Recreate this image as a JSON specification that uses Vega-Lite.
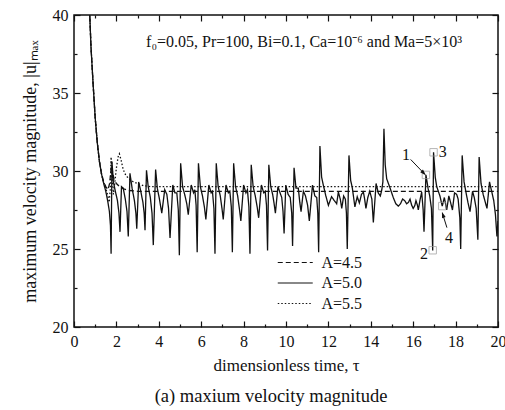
{
  "$schema": "https://vega.github.io/schema/vega-lite/v6.json",
  "autosize": "none",
  "width": 424,
  "height": 312,
  "padding": {"left": 74, "top": 15, "right": 7, "bottom": 83},
  "background": "white",
  "config": {
    "view": {"stroke": "#111", "strokeWidth": 1.5},
    "font": "Liberation Serif",
    "axis": {"domain": false, "grid": false, "labelFont": "Liberation Serif", "labelFontSize": 16, "labelColor": "#111", "titleFont": "Liberation Serif", "titleFontSize": 17, "titleFontWeight": "normal", "titleColor": "#111", "tickColor": "#111", "tickWidth": 1.2}
  },
  "title": {"text": "(a)  maxium velocity magnitude", "orient": "bottom", "anchor": "middle", "fontSize": 18.5, "font": "Liberation Serif", "fontWeight": "normal", "color": "#111", "offset": 14, "dx": -15},
  "datasets": {
    "curves": [
      {"t":0.6,"u":46,"s":"A=5.0"},{"t":0.7,"u":41.5,"s":"A=5.0"},{"t":0.8,"u":38.0,"s":"A=5.0"},{"t":0.9,"u":35.6,"s":"A=5.0"},{"t":1.0,"u":33.4,"s":"A=5.0"},{"t":1.1,"u":31.8,"s":"A=5.0"},{"t":1.2,"u":30.6,"s":"A=5.0"},{"t":1.3,"u":29.8,"s":"A=5.0"},{"t":1.4,"u":29.2,"s":"A=5.0"},{"t":1.5,"u":28.7,"s":"A=5.0"},{"t":1.6,"u":28.0,"s":"A=5.0"},{"t":1.67,"u":27.4,"s":"A=5.0"},{"t":1.72,"u":26.5,"s":"A=5.0"},{"t":1.75,"u":24.7,"s":"A=5.0"},{"t":1.79,"u":30.6,"s":"A=5.0"},{"t":1.86,"u":29.3,"s":"A=5.0"},{"t":1.95,"u":28.7,"s":"A=5.0"},{"t":2.05,"u":28.1,"s":"A=5.0"},{"t":2.12,"u":27.3,"s":"A=5.0"},{"t":2.17,"u":26.1,"s":"A=5.0"},{"t":2.24,"u":29.0,"s":"A=5.0"},{"t":2.32,"u":28.9,"s":"A=5.0"},{"t":2.42,"u":28.2,"s":"A=5.0"},{"t":2.5,"u":27.4,"s":"A=5.0"},{"t":2.56,"u":25.8,"s":"A=5.0"},{"t":2.64,"u":29.85,"s":"A=5.0"},{"t":2.74,"u":28.9,"s":"A=5.0"},{"t":2.85,"u":28.1,"s":"A=5.0"},{"t":2.92,"u":27.3,"s":"A=5.0"},{"t":2.96,"u":26.3,"s":"A=5.0"},{"t":3.05,"u":29.3,"s":"A=5.0"},{"t":3.15,"u":28.7,"s":"A=5.0"},{"t":3.25,"u":28.0,"s":"A=5.0"},{"t":3.31,"u":27.3,"s":"A=5.0"},{"t":3.35,"u":26.2,"s":"A=5.0"},{"t":3.42,"u":30.05,"s":"A=5.0"},{"t":3.5,"u":29.0,"s":"A=5.0"},{"t":3.6,"u":28.3,"s":"A=5.0"},{"t":3.68,"u":27.3,"s":"A=5.0"},{"t":3.74,"u":25.25,"s":"A=5.0"},{"t":3.85,"u":30.1,"s":"A=5.0"},{"t":3.93,"u":28.9,"s":"A=5.0"},{"t":4.03,"u":28.2,"s":"A=5.0"},{"t":4.14,"u":27.3,"s":"A=5.0"},{"t":4.28,"u":28.8,"s":"A=5.0"},{"t":4.38,"u":28.5,"s":"A=5.0"},{"t":4.46,"u":27.6,"s":"A=5.0"},{"t":4.53,"u":25.7,"s":"A=5.0"},{"t":4.66,"u":29.1,"s":"A=5.0"},{"t":4.76,"u":28.6,"s":"A=5.0"},{"t":4.85,"u":28.6,"s":"A=5.0"},{"t":4.92,"u":27.5,"s":"A=5.0"},{"t":4.97,"u":24.6,"s":"A=5.0"},
      {"t":5.03,"u":30.5,"s":"A=5.0"},{"t":5.12,"u":29.0,"s":"A=5.0"},{"t":5.22,"u":28.5,"s":"A=5.0"},{"t":5.32,"u":27.9,"s":"A=5.0"},{"t":5.39,"u":27.2,"s":"A=5.0"},{"t":5.53,"u":29.1,"s":"A=5.0"},{"t":5.64,"u":28.6,"s":"A=5.0"},{"t":5.7,"u":28.8,"s":"A=5.0"},{"t":5.76,"u":27.8,"s":"A=5.0"},{"t":5.81,"u":24.8,"s":"A=5.0"},{"t":5.87,"u":30.5,"s":"A=5.0"},{"t":5.96,"u":29.0,"s":"A=5.0"},{"t":6.06,"u":28.4,"s":"A=5.0"},{"t":6.15,"u":27.7,"s":"A=5.0"},{"t":6.22,"u":26.9,"s":"A=5.0"},{"t":6.36,"u":29.1,"s":"A=5.0"},{"t":6.47,"u":28.6,"s":"A=5.0"},{"t":6.53,"u":28.7,"s":"A=5.0"},{"t":6.6,"u":27.6,"s":"A=5.0"},{"t":6.65,"u":24.7,"s":"A=5.0"},{"t":6.71,"u":30.5,"s":"A=5.0"},{"t":6.8,"u":29.0,"s":"A=5.0"},{"t":6.9,"u":28.4,"s":"A=5.0"},{"t":6.98,"u":27.6,"s":"A=5.0"},{"t":7.04,"u":26.9,"s":"A=5.0"},{"t":7.17,"u":29.1,"s":"A=5.0"},{"t":7.28,"u":28.6,"s":"A=5.0"},{"t":7.35,"u":28.7,"s":"A=5.0"},{"t":7.42,"u":27.7,"s":"A=5.0"},{"t":7.47,"u":24.8,"s":"A=5.0"},{"t":7.53,"u":30.5,"s":"A=5.0"},{"t":7.62,"u":29.0,"s":"A=5.0"},{"t":7.72,"u":28.4,"s":"A=5.0"},{"t":7.8,"u":27.6,"s":"A=5.0"},{"t":7.87,"u":26.8,"s":"A=5.0"},{"t":8.0,"u":29.1,"s":"A=5.0"},{"t":8.11,"u":28.6,"s":"A=5.0"},{"t":8.18,"u":28.8,"s":"A=5.0"},{"t":8.25,"u":27.7,"s":"A=5.0"},{"t":8.3,"u":24.7,"s":"A=5.0"},{"t":8.36,"u":30.4,"s":"A=5.0"},{"t":8.45,"u":29.0,"s":"A=5.0"},{"t":8.55,"u":28.4,"s":"A=5.0"},{"t":8.64,"u":27.7,"s":"A=5.0"},{"t":8.71,"u":27.0,"s":"A=5.0"},{"t":8.84,"u":29.1,"s":"A=5.0"},{"t":8.95,"u":28.6,"s":"A=5.0"},{"t":9.02,"u":28.7,"s":"A=5.0"},{"t":9.08,"u":27.8,"s":"A=5.0"},{"t":9.13,"u":24.9,"s":"A=5.0"},{"t":9.19,"u":30.4,"s":"A=5.0"},{"t":9.28,"u":29.0,"s":"A=5.0"},{"t":9.37,"u":28.5,"s":"A=5.0"},{"t":9.44,"u":27.9,"s":"A=5.0"},{"t":9.5,"u":27.3,"s":"A=5.0"},{"t":9.62,"u":29.0,"s":"A=5.0"},{"t":9.72,"u":28.6,"s":"A=5.0"},{"t":9.8,"u":28.3,"s":"A=5.0"},{"t":9.86,"u":27.4,"s":"A=5.0"},{"t":9.91,"u":26.0,"s":"A=5.0"},{"t":9.99,"u":29.1,"s":"A=5.0"},{"t":10.1,"u":28.5,"s":"A=5.0"},{"t":10.2,"u":28.3,"s":"A=5.0"},{"t":10.27,"u":27.3,"s":"A=5.0"},{"t":10.31,"u":25.2,"s":"A=5.0"},{"t":10.38,"u":30.2,"s":"A=5.0"},{"t":10.47,"u":28.9,"s":"A=5.0"},{"t":10.58,"u":28.9,"s":"A=5.0"},{"t":10.65,"u":28.0,"s":"A=5.0"},{"t":10.71,"u":27.4,"s":"A=5.0"},{"t":10.82,"u":28.7,"s":"A=5.0"},{"t":10.92,"u":28.4,"s":"A=5.0"},{"t":11.02,"u":27.8,"s":"A=5.0"},{"t":11.1,"u":26.8,"s":"A=5.0"},{"t":11.25,"u":29.1,"s":"A=5.0"},{"t":11.36,"u":28.4,"s":"A=5.0"},{"t":11.45,"u":28.3,"s":"A=5.0"},{"t":11.5,"u":27.3,"s":"A=5.0"},{"t":11.54,"u":24.8,"s":"A=5.0"},{"t":11.6,"u":31.6,"s":"A=5.0"},{"t":11.68,"u":29.6,"s":"A=5.0"},{"t":11.76,"u":29.1,"s":"A=5.0"},{"t":11.88,"u":28.4,"s":"A=5.0"},{"t":12.0,"u":27.8,"s":"A=5.0"},{"t":12.15,"u":28.35,"s":"A=5.0"},{"t":12.28,"u":28.1,"s":"A=5.0"},{"t":12.39,"u":27.9,"s":"A=5.0"},{"t":12.47,"u":28.65,"s":"A=5.0"},{"t":12.56,"u":28.2,"s":"A=5.0"},{"t":12.63,"u":27.6,"s":"A=5.0"},{"t":12.72,"u":28.4,"s":"A=5.0"},{"t":12.8,"u":28.2,"s":"A=5.0"},{"t":12.85,"u":27.3,"s":"A=5.0"},{"t":12.89,"u":25.0,"s":"A=5.0"},{"t":12.97,"u":31.0,"s":"A=5.0"},{"t":13.05,"u":29.4,"s":"A=5.0"},{"t":13.13,"u":28.9,"s":"A=5.0"},{"t":13.25,"u":27.7,"s":"A=5.0"},{"t":13.36,"u":28.35,"s":"A=5.0"},{"t":13.46,"u":27.95,"s":"A=5.0"},{"t":13.56,"u":28.5,"s":"A=5.0"},{"t":13.65,"u":28.65,"s":"A=5.0"},{"t":13.71,"u":28.2,"s":"A=5.0"},{"t":13.77,"u":27.6,"s":"A=5.0"},{"t":13.86,"u":28.3,"s":"A=5.0"},{"t":13.95,"u":28.7,"s":"A=5.0"},{"t":14.05,"u":28.2,"s":"A=5.0"},{"t":14.12,"u":26.7,"s":"A=5.0"},{"t":14.25,"u":29.2,"s":"A=5.0"},{"t":14.35,"u":28.6,"s":"A=5.0"},{"t":14.45,"u":28.4,"s":"A=5.0"},{"t":14.52,"u":28.8,"s":"A=5.0"},{"t":14.57,"u":29.3,"s":"A=5.0"},{"t":14.62,"u":32.7,"s":"A=5.0"},{"t":14.68,"u":30.4,"s":"A=5.0"},{"t":14.75,"u":29.5,"s":"A=5.0"},{"t":14.91,"u":28.9,"s":"A=5.0"},{"t":15.06,"u":28.3,"s":"A=5.0"},{"t":15.18,"u":27.9,"s":"A=5.0"},{"t":15.3,"u":27.75,"s":"A=5.0"},{"t":15.4,"u":27.9,"s":"A=5.0"},{"t":15.5,"u":28.2,"s":"A=5.0"},{"t":15.6,"u":28.1,"s":"A=5.0"},{"t":15.69,"u":27.9,"s":"A=5.0"},{"t":15.78,"u":28.0,"s":"A=5.0"},{"t":15.85,"u":28.2,"s":"A=5.0"},{"t":15.93,"u":27.8,"s":"A=5.0"},{"t":16.0,"u":27.6,"s":"A=5.0"},{"t":16.08,"u":27.8,"s":"A=5.0"},{"t":16.13,"u":28.1,"s":"A=5.0"},{"t":16.2,"u":27.8,"s":"A=5.0"},{"t":16.24,"u":27.5,"s":"A=5.0"},{"t":16.33,"u":28.2,"s":"A=5.0"},{"t":16.4,"u":28.65,"s":"A=5.0"},{"t":16.47,"u":27.5,"s":"A=5.0"},{"t":16.51,"u":26.1,"s":"A=5.0"},{"t":16.6,"u":29.75,"s":"A=5.0"},{"t":16.7,"u":28.9,"s":"A=5.0"},{"t":16.78,"u":28.4,"s":"A=5.0"},{"t":16.86,"u":27.6,"s":"A=5.0"},{"t":16.92,"u":24.9,"s":"A=5.0"},{"t":16.96,"u":31.2,"s":"A=5.0"},{"t":17.04,"u":29.6,"s":"A=5.0"},{"t":17.11,"u":29.0,"s":"A=5.0"},{"t":17.26,"u":28.4,"s":"A=5.0"},{"t":17.37,"u":27.75,"s":"A=5.0"},{"t":17.47,"u":28.3,"s":"A=5.0"},{"t":17.58,"u":27.5,"s":"A=5.0"},{"t":17.68,"u":28.4,"s":"A=5.0"},{"t":17.76,"u":28.0,"s":"A=5.0"},{"t":17.85,"u":27.5,"s":"A=5.0"},{"t":17.95,"u":28.6,"s":"A=5.0"},{"t":18.05,"u":28.5,"s":"A=5.0"},{"t":18.12,"u":28.2,"s":"A=5.0"},{"t":18.2,"u":27.0,"s":"A=5.0"},{"t":18.24,"u":25.0,"s":"A=5.0"},{"t":18.31,"u":31.0,"s":"A=5.0"},{"t":18.4,"u":29.3,"s":"A=5.0"},{"t":18.48,"u":28.7,"s":"A=5.0"},{"t":18.58,"u":28.0,"s":"A=5.0"},{"t":18.68,"u":27.4,"s":"A=5.0"},{"t":18.8,"u":28.7,"s":"A=5.0"},{"t":18.88,"u":28.3,"s":"A=5.0"},{"t":18.97,"u":27.6,"s":"A=5.0"},{"t":19.05,"u":25.6,"s":"A=5.0"},{"t":19.11,"u":30.9,"s":"A=5.0"},{"t":19.2,"u":29.2,"s":"A=5.0"},{"t":19.3,"u":28.5,"s":"A=5.0"},{"t":19.4,"u":28.0,"s":"A=5.0"},{"t":19.48,"u":27.6,"s":"A=5.0"},{"t":19.6,"u":29.3,"s":"A=5.0"},{"t":19.7,"u":28.7,"s":"A=5.0"},{"t":19.8,"u":28.1,"s":"A=5.0"},{"t":19.88,"u":27.2,"s":"A=5.0"},{"t":19.95,"u":25.8,"s":"A=5.0"},{"t":20.0,"u":26.8,"s":"A=5.0"},
      {"t":0.6,"u":46,"s":"A=4.5"},{"t":0.7,"u":41.5,"s":"A=4.5"},{"t":0.8,"u":38.0,"s":"A=4.5"},{"t":0.9,"u":35.6,"s":"A=4.5"},{"t":1.0,"u":33.4,"s":"A=4.5"},{"t":1.1,"u":31.8,"s":"A=4.5"},{"t":1.2,"u":30.6,"s":"A=4.5"},{"t":1.3,"u":29.8,"s":"A=4.5"},{"t":1.4,"u":29.3,"s":"A=4.5"},{"t":1.5,"u":29.0,"s":"A=4.5"},{"t":1.6,"u":28.8,"s":"A=4.5"},{"t":1.68,"u":29.2,"s":"A=4.5"},{"t":1.74,"u":30.0,"s":"A=4.5"},{"t":1.77,"u":30.6,"s":"A=4.5"},{"t":1.82,"u":29.9,"s":"A=4.5"},{"t":1.9,"u":29.4,"s":"A=4.5"},{"t":2.0,"u":29.2,"s":"A=4.5"},{"t":2.15,"u":29.0,"s":"A=4.5"},{"t":2.35,"u":28.85,"s":"A=4.5"},{"t":2.6,"u":28.75,"s":"A=4.5"},{"t":3.0,"u":28.7,"s":"A=4.5"},{"t":20.0,"u":28.7,"s":"A=4.5"},
      {"t":0.6,"u":46,"s":"A=5.5"},{"t":0.7,"u":41.5,"s":"A=5.5"},{"t":0.8,"u":38.0,"s":"A=5.5"},{"t":0.9,"u":35.6,"s":"A=5.5"},{"t":1.0,"u":33.4,"s":"A=5.5"},{"t":1.1,"u":31.8,"s":"A=5.5"},{"t":1.2,"u":30.6,"s":"A=5.5"},{"t":1.3,"u":29.8,"s":"A=5.5"},{"t":1.4,"u":29.3,"s":"A=5.5"},{"t":1.5,"u":28.9,"s":"A=5.5"},{"t":1.6,"u":28.4,"s":"A=5.5"},{"t":1.66,"u":28.0,"s":"A=5.5"},{"t":1.71,"u":28.8,"s":"A=5.5"},{"t":1.75,"u":30.9,"s":"A=5.5"},{"t":1.8,"u":29.5,"s":"A=5.5"},{"t":1.86,"u":28.5,"s":"A=5.5"},{"t":1.92,"u":29.2,"s":"A=5.5"},{"t":2.0,"u":30.2,"s":"A=5.5"},{"t":2.08,"u":30.9,"s":"A=5.5"},{"t":2.14,"u":31.1,"s":"A=5.5"},{"t":2.22,"u":30.7,"s":"A=5.5"},{"t":2.32,"u":30.1,"s":"A=5.5"},{"t":2.45,"u":29.7,"s":"A=5.5"},{"t":2.6,"u":29.5,"s":"A=5.5"},{"t":2.8,"u":29.3,"s":"A=5.5"},{"t":3.0,"u":29.2,"s":"A=5.5"},{"t":3.3,"u":29.05,"s":"A=5.5"},{"t":3.6,"u":29.0,"s":"A=5.5"},{"t":20.0,"u":29.0,"s":"A=5.5"}
    ],
    "markers": [{"t":16.6,"u":29.75},{"t":16.92,"u":24.92},{"t":16.96,"u":31.2},{"t":17.37,"u":27.75}],
    "labels": [{"t":15.66,"u":31.0,"k":"1"},{"t":16.51,"u":24.7,"k":"2"},{"t":17.39,"u":31.2,"k":"3"},{"t":17.69,"u":25.73,"k":"4"}],
    "arrows": [{"t":15.88,"u":30.74,"t2":16.5,"u2":29.86},{"t":17.59,"u":26.37,"t2":17.4,"u2":27.2}],
    "head1": [{"t":16.5,"u":29.86}],
    "head4": [{"t":17.4,"u":27.2}],
    "note": [{"t":3.4,"u":37.95,"s":"f₀=0.05, Pr=100, Bi=0.1, Ca=10⁻⁶ and Ma=5×10³"}]
  },
  "resolve": {"axis": {"x": "independent", "y": "independent"}},
  "layer": [
    {
      "data": {"name": "curves"},
      "mark": {"type": "line", "clip": true, "strokeWidth": 1.3, "color": "#111"},
      "encoding": {
        "x": {"field": "t", "type": "quantitative", "scale": {"domain": [0, 20], "nice": false, "zero": false},
          "axis": {"orient": "bottom", "values": [0,1,2,3,4,5,6,7,8,9,10,11,12,13,14,15,16,17,18,19,20], "labelExpr": "datum.value % 2 === 0 ? datum.label : ''", "tickSize": {"condition": {"test": "datum.value % 2 === 0", "value": -6}, "value": -3}, "labelPadding": 12, "title": "dimensionless time, τ", "titlePadding": 8, "labelFlush": false}},
        "y": {"field": "u", "type": "quantitative", "scale": {"domain": [20, 40], "nice": false, "zero": false},
          "axis": {"orient": "left", "values": [20,22.5,25,27.5,30,32.5,35,37.5,40], "labelExpr": "datum.value % 5 === 0 ? datum.label : ''", "tickSize": {"condition": {"test": "datum.value % 5 === 0", "value": -6}, "value": -3}, "labelPadding": 12, "title": "maximum velocity magnitude, |u|ₘₐₓ", "titleFontSize": 18, "titlePadding": 13, "labelFlush": false}},
        "strokeDash": {"field": "s", "type": "nominal",
          "scale": {"domain": ["A=4.5", "A=5.0", "A=5.5"], "range": [[5, 3], [1, 0], [1.5, 2]]},
          "legend": {"orient": "none", "legendX": 203, "legendY": 238, "title": null, "symbolType": "M-1,0H3", "symbolSize": 306, "symbolStrokeWidth": 1.2, "symbolStrokeColor": "#111", "symbolFillColor": "transparent", "labelFont": "Liberation Serif", "labelFontSize": 16, "labelColor": "#111", "labelOffset": 25.5, "rowPadding": 2.5}},
        "order": {"field": "t", "type": "quantitative"}
      }
    },
    {
      "data": {"name": "markers"},
      "mark": {"type": "point", "shape": "square", "filled": false, "stroke": "#999", "strokeWidth": 1, "size": 55},
      "encoding": {
        "x": {"field": "t", "type": "quantitative", "axis": {"orient": "top", "values": [0,1,2,3,4,5,6,7,8,9,10,11,12,13,14,15,16,17,18,19,20], "labels": false, "tickSize": {"condition": {"test": "datum.value % 2 === 0", "value": -6}, "value": -3}, "title": null}},
        "y": {"field": "u", "type": "quantitative", "axis": {"orient": "right", "values": [20,22.5,25,27.5,30,32.5,35,37.5,40], "labels": false, "tickSize": {"condition": {"test": "datum.value % 5 === 0", "value": -6}, "value": -3}, "title": null}}
      }
    },
    {
      "data": {"name": "arrows"},
      "mark": {"type": "rule", "color": "#111", "strokeWidth": 1},
      "encoding": {
        "x": {"field": "t", "type": "quantitative", "axis": null},
        "y": {"field": "u", "type": "quantitative", "axis": null},
        "x2": {"field": "t2"},
        "y2": {"field": "u2"}
      }
    },
    {
      "data": {"name": "head1"},
      "mark": {"type": "point", "shape": "M0,-1L0.6,1L-0.6,1Z", "filled": true, "color": "#111", "size": 40, "angle": 136, "opacity": 1},
      "encoding": {
        "x": {"field": "t", "type": "quantitative", "axis": null},
        "y": {"field": "u", "type": "quantitative", "axis": null}
      }
    },
    {
      "data": {"name": "head4"},
      "mark": {"type": "point", "shape": "M0,-1L0.6,1L-0.6,1Z", "filled": true, "color": "#111", "size": 40, "angle": 342, "opacity": 1},
      "encoding": {
        "x": {"field": "t", "type": "quantitative", "axis": null},
        "y": {"field": "u", "type": "quantitative", "axis": null}
      }
    },
    {
      "data": {"name": "labels"},
      "mark": {"type": "text", "font": "Liberation Serif", "fontSize": 16, "color": "#111", "align": "center", "baseline": "middle"},
      "encoding": {
        "x": {"field": "t", "type": "quantitative", "axis": null},
        "y": {"field": "u", "type": "quantitative", "axis": null},
        "text": {"field": "k"}
      }
    },
    {
      "data": {"name": "note"},
      "mark": {"type": "text", "font": "Liberation Serif", "fontSize": 16, "color": "#111", "align": "left", "baseline": "alphabetic"},
      "encoding": {
        "x": {"field": "t", "type": "quantitative", "axis": null},
        "y": {"field": "u", "type": "quantitative", "axis": null},
        "text": {"field": "s"}
      }
    }
  ]
}
